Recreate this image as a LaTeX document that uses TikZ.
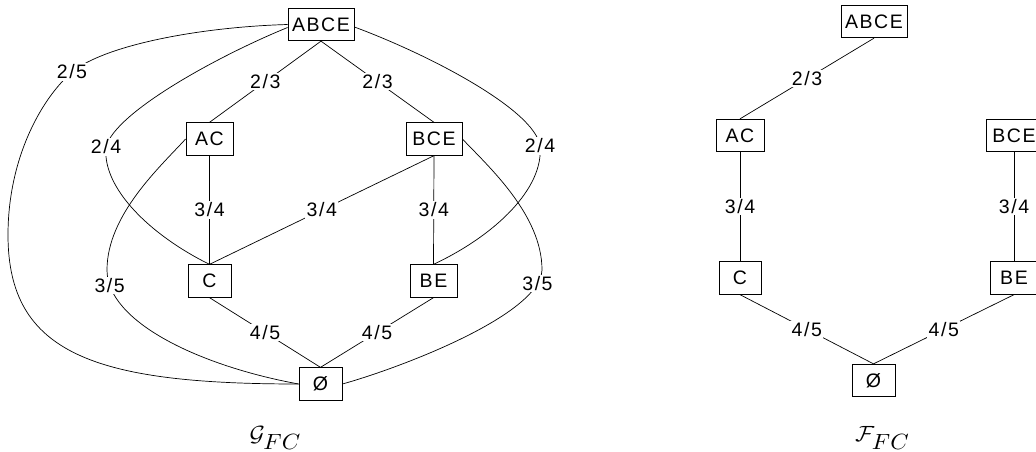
\documentclass[tikz,border=0pt]{standalone}
\usepackage{fontspec}
\newfontfamily\lblfont[LetterSpace=8]{Liberation Sans}
\begin{document}
\begin{tikzpicture}[x=1pt,y=-1pt,
  setbox/.style={draw, line width=0.8pt, minimum height=32.5pt, inner xsep=2pt, inner ysep=0pt,
    fill=white, font=\lblfont\fontsize{19.5}{21}\selectfont},
  wt/.style={fill=white, inner sep=1.5pt, font=\lblfont\fontsize{19.5}{21}\selectfont},
  link/.style={line width=0.7pt},
  caption/.style={inner sep=0pt}]
\useasboundingbox (0,0) rectangle (1036,452);
\clip (0,0) rectangle (1036,452);

% ---- left lattice G_FC ----
\node[setbox, minimum width=66pt] (gabce) at (321,24.5) {ABCE};
\node[setbox, minimum width=47pt] (gac)   at (209.5,139) {AC};
\node[setbox, minimum width=56pt] (gbce)  at (434,139) {BCE};
\node[setbox, minimum width=43pt] (gc)    at (209.5,281) {C};
\node[setbox, minimum width=47pt] (gbe)   at (433.5,281) {BE};
\node[setbox, minimum width=43pt] (gnull) at (320.5,384) {Ø};

\draw[link] (gabce.south) -- node[wt]{2/3} (gac.north);
\draw[link] (gabce.south) -- node[wt]{2/3} (gbce.north);
\draw[link] (gac.south) -- node[wt]{3/4} (gc.north);
\draw[link] (gbce.south) -- node[wt]{3/4} (gc.north);
\draw[link] (gbce.south) -- node[wt]{3/4} (gbe.north);
\draw[link] (gc.south) -- node[wt]{4/5} (gnull.north);
\draw[link] (gbe.south) -- node[wt]{4/5} (gnull.north);

% outer arcs
\draw[link] (gabce.west) .. controls (200,27) and (105,45) .. (72,72) node[wt]{2/5}
  .. controls (40,100) and (8,160) .. (8,235)
  .. controls (8,354) and (95,384) .. (gnull.west);
\draw[link] ([yshift=-3pt]gabce.west) .. controls (220,55) and (115,112) .. (106,147) node[wt]{2/4}
  .. controls (102,188) and (150,235) .. (gc.north);
\draw[link] ([yshift=-2.5pt]gabce.east) .. controls (430,55) and (535,110) .. (540,146) node[wt]{2/4}
  .. controls (544,188) and (496,235) .. (gbe.north);
\draw[link] (gac.west) .. controls (160,167) and (107,215) .. (107,270)
  .. controls (107,322) and (200,366) .. node[wt,pos=0.1]{3/5} (gnull.west);
\draw[link] (gbce.east) .. controls (489,167) and (542,215) .. (542,270)
  .. controls (540,315) and (400,368) .. node[wt,pos=0.1]{3/5} (gnull.east);

\node[caption] (gcap) at (275.5,438) {\scalebox{2.35}[2.2]{$\mathcal{G}_{\textstyle FC}$}};

% ---- right lattice F_FC ----
\node[setbox, minimum width=66pt] (fabce) at (874,21.5) {ABCE};
\node[setbox, minimum width=48pt] (fac)   at (740,135.5) {AC};
\node[setbox, minimum width=56pt] (fbce)  at (1014,135.5) {BCE};
\node[setbox, minimum width=42pt] (fc)    at (740,278) {C};
\node[setbox, minimum width=47pt] (fbe)   at (1014,278) {BE};
\node[setbox, minimum width=43pt] (fnull) at (873.5,380.5) {Ø};

\draw[link] (fabce.south) -- node[wt]{2/3} (fac.north);
\draw[link] (fac.south) -- node[wt]{3/4} (fc.north);
\draw[link] (fbce.south) -- node[wt]{3/4} (fbe.north);
\draw[link] (fc.south) -- node[wt]{4/5} (fnull.north);
\draw[link] (fbe.south) -- node[wt]{4/5} (fnull.north);

\node[caption] (fcap) at (882.5,438) {\scalebox{2.35}[2.2]{$\mathcal{F}_{\textstyle FC}$}};
\end{tikzpicture}
\end{document}
